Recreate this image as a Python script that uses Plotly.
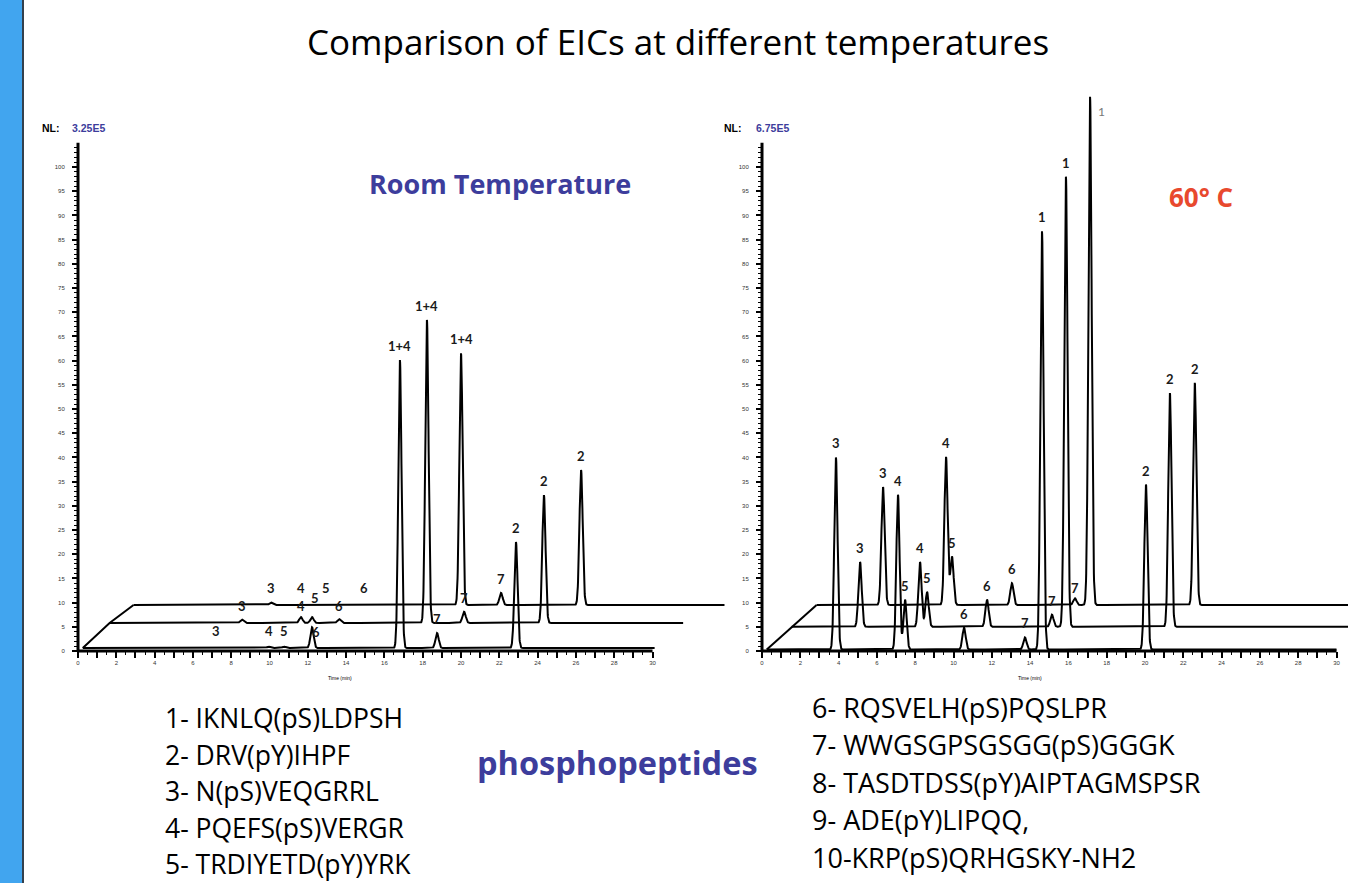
import numpy as np
import plotly.graph_objects as go

W, H = 1348, 883
PX_PER_MIN = 19.15
PX_PER_UNIT = 4.84
Y0_PX = 651

# ---------------- data ----------------
# Room temperature, three stacked runs (front, middle, back)
rt_labels = ["3", "4", "5", "6", "1+4", "7", "2"]
rt_front_time = [7.2, 9.95, 10.75, 12.22, 16.81, 18.75, 22.87]
rt_front_int = [0.15, 0.3, 0.3, 4.3, 59.5, 3.1, 21.9]
rt_mid_time = [7.16, 10.24, 10.82, 12.23, 16.82, 18.76, 22.93]
rt_mid_int = [0.7, 1.2, 1.2, 0.8, 62.6, 2.3, 26.4]
rt_back_time = [7.43, 9.0, 10.3, 12.3, 17.35, 19.44, 23.62]
rt_back_int = [0.5, 0.1, 0.1, 0.1, 52.0, 2.5, 27.9]
rt_end_time = [30.1, 30.2, 31.1]

# 60 C, three stacked runs
hot_labels = ["3", "4", "5", "6", "7", "1", "2"]
hot_front_time = [3.86, 7.10, 7.47, 10.55, 13.73, 14.62, 20.05]
hot_front_int = [39.7, 32.0, 10.3, 4.5, 2.5, 86.4, 34.1]
hot_mid_time = [3.82, 6.95, 7.32, 10.45, 13.84, 14.57, 20.0]
hot_mid_int = [13.4, 13.4, 7.2, 5.6, 2.5, 93.0, 48.3]
hot_back_time = [3.72, 7.01, 7.32, 10.45, 13.74, 14.53, 20.0]
hot_back_int = [24.4, 30.6, 10.0, 4.5, 1.4, 105.0, 45.9]
hot_end_time = [30.0, 31.0, 31.0]

# NL (normalisation levels)
nl_values = ["3.25E5", "6.75E5"]

# axis ticks
x_tick_vals = list(range(0, 31))
x_tick_text = [str(v) if v % 2 == 0 else "" for v in x_tick_vals]
x_minor_vals = [v + 0.5 for v in range(0, 30)]
y_tick_vals = list(range(0, 101, 5))
y_tick_text = [str(v) for v in y_tick_vals]
y_minor_vals = [v for v in range(0, 106) if v % 5 != 0]

peptides_left = ["1- IKNLQ(pS)LDPSH", "2- DRV(pY)IHPF", "3- N(pS)VEQGRRL",
                 "4- PQEFS(pS)VERGR", "5- TRDIYETD(pY)YRK"]
peptides_right = ["6- RQSVELH(pS)PQSLPR", "7- WWGSGPSGSGG(pS)GGGK",
                  "8- TASDTDSS(pY)AIPTAGMSPSR", "9- ADE(pY)LIPQQ,",
                  "10-KRP(pS)QRHGSKY-NH2"]

# ---------------- style / layout ----------------
START_T = 0.25
SIGMA = 0.085
STEP = 0.01
LEFT = dict(x0_px=78, dom=(70, 735), xoff=[0.0, 1.4, 2.65], base=[0.6, 5.8, 9.5])
RIGHT = dict(x0_px=762, dom=(755, 1348), xoff=[0.0, 1.3, 2.6], base=[0.3, 5.0, 9.5])
Y_DOM_PX = (75, 660)
BLUE = "#3d3d9c"
FONT = "Lato"
TEXT_FONT = "Open Sans"

fig = go.Figure()
annotations = []


def chromatogram(times, ints, t_end):
    t = np.arange(START_T, t_end + STEP, STEP)
    y = np.zeros_like(t)
    for rt, h in zip(times, ints):
        y += h * np.exp(-0.5 * ((t - rt) / SIGMA) ** 2)
    return t, y


def add_panel(cfg, runs, labels, ends, xa, ya):
    for i, (times, ints) in enumerate(runs):
        t, y = chromatogram(times, ints, ends[i])
        fig.add_trace(go.Scatter(x=t + cfg["xoff"][i], y=y + cfg["base"][i], mode="lines",
                                 line=dict(color="black", width=2), xaxis=xa, yaxis=ya,
                                 hoverinfo="skip", showlegend=False))
    # peak labels, placed from the back run to the front run, avoiding collisions
    placed = []
    for i in (2, 1, 0):
        times, ints = runs[i]
        for lab, rt, h in zip(labels, times, ints):
            xa_val = rt + cfg["xoff"][i]
            top = cfg["base"][i] + h
            px = cfg["x0_px"] + xa_val * PX_PER_MIN
            if top > 110:
                annotations.append(dict(x=xa_val, y=top - 1, xref=xa, yref=ya,
                                        text=lab, showarrow=False, xanchor="left", yanchor="top",
                                        xshift=6, font=dict(family=FONT, size=12, color="#777")))
                continue
            if h < 1.5:
                cy = Y0_PX - (cfg["base"][i] + 3.6) * PX_PER_UNIT
            else:
                cy = Y0_PX - top * PX_PER_UNIT - 14
            hits = [q for q in placed if abs(px - q[0]) < 12 and abs(cy - q[1]) < 14]
            if hits:
                if any(q[2] != i for q in hits):
                    cy = Y0_PX - top * PX_PER_UNIT + 5
                    px += 4
                else:
                    cy -= 8
                    px += 3
            placed.append((px, cy, i))
            annotations.append(dict(x=(px - cfg["x0_px"]) / PX_PER_MIN,
                                    y=(Y0_PX - cy) / PX_PER_UNIT, xref=xa, yref=ya,
                                    text="<b>" + lab + "</b>", showarrow=False,
                                    yanchor="middle",
                                    font=dict(family=FONT, size=13, color="#1a1a1a")))
    # perspective line joining the run starts
    fig.add_trace(go.Scatter(x=[START_T + o for o in cfg["xoff"]], y=cfg["base"], mode="lines",
                             line=dict(color="black", width=2), xaxis=xa, yaxis=ya,
                             hoverinfo="skip", showlegend=False))


add_panel(LEFT, [(rt_front_time, rt_front_int), (rt_mid_time, rt_mid_int), (rt_back_time, rt_back_int)],
          rt_labels, rt_end_time, "x", "y")
add_panel(RIGHT, [(hot_front_time, hot_front_int), (hot_mid_time, hot_mid_int), (hot_back_time, hot_back_int)],
          hot_labels, hot_end_time, "x2", "y2")


def xaxis_cfg(cfg):
    lo = (cfg["dom"][0] - cfg["x0_px"]) / PX_PER_MIN
    hi = (cfg["dom"][1] - cfg["x0_px"]) / PX_PER_MIN
    return dict(domain=[cfg["dom"][0] / W, cfg["dom"][1] / W], range=[lo, hi],
                anchor="free", position=1 - Y0_PX / H, showline=False, showgrid=False,
                zeroline=False, tickmode="array", tickvals=x_tick_vals, ticktext=x_tick_text,
                ticks="outside", ticklen=6, tickwidth=1.5, tickcolor="black",
                tickfont=dict(family="Liberation Sans", size=6, color="#333"),
                minor=dict(tickmode="array", tickvals=x_minor_vals, ticks="outside",
                           ticklen=3, tickwidth=1.2, tickcolor="black"))


def yaxis_cfg(cfg):
    lo = (Y0_PX - Y_DOM_PX[1]) / PX_PER_UNIT
    hi = (Y0_PX - Y_DOM_PX[0]) / PX_PER_UNIT
    return dict(domain=[1 - Y_DOM_PX[1] / H, 1 - Y_DOM_PX[0] / H], range=[lo, hi],
                anchor="free", position=cfg["x0_px"] / W, showline=False, showgrid=False,
                zeroline=False, tickmode="array", tickvals=y_tick_vals, ticktext=y_tick_text,
                ticks="outside", ticklen=6, tickwidth=1.5, tickcolor="black",
                ticklabelstandoff=6,
                tickfont=dict(family="Liberation Sans", size=6, color="#333"),
                minor=dict(tickmode="array", tickvals=y_minor_vals, ticks="outside",
                           ticklen=4, tickwidth=1.2, tickcolor="black"))


shapes = []
for xa, ya in (("x", "y"), ("x2", "y2")):
    shapes.append(dict(type="line", xref=xa, yref=ya, x0=0, x1=30, y0=0, y1=0,
                       line=dict(color="black", width=3)))
    shapes.append(dict(type="line", xref=xa, yref=ya, x0=0, x1=0, y0=0, y1=105,
                       line=dict(color="black", width=3)))
# slide side bar
shapes.append(dict(type="rect", xref="paper", yref="paper", x0=0, x1=22 / W, y0=0, y1=1,
                   fillcolor="#41a5ef", line=dict(width=0), layer="below"))
shapes.append(dict(type="line", xref="paper", yref="paper", x0=23 / W, x1=23 / W, y0=0, y1=1,
                   line=dict(color="#34404c", width=2)))


def pt(px, py):
    return px / W, 1 - py / H


def add_text(px, py, text, size, color="black", anchor="center", family=TEXT_FONT):
    x, y = pt(px, py)
    annotations.append(dict(x=x, y=y, xref="paper", yref="paper", text=text, showarrow=False,
                            xanchor=anchor, yanchor="middle",
                            font=dict(family=family, size=size, color=color)))


add_text(678, 42, "Comparison of EICs at different temperatures", 35)
add_text(40, 128, "<b>NL:</b>", 10.5, anchor="left", family="Liberation Sans")
add_text(70, 128, "<b>" + nl_values[0] + "</b>", 10.5, color=BLUE, anchor="left", family="Liberation Sans")
add_text(722, 128, "<b>NL:</b>", 10.5, anchor="left", family="Liberation Sans")
add_text(754, 128, "<b>" + nl_values[1] + "</b>", 10.5, color=BLUE, anchor="left", family="Liberation Sans")
add_text(500, 183, "<b>Room Temperature</b>", 27, color=BLUE)
add_text(1201, 197, "<b>60° C</b>", 26, color="#e8492e")
add_text(617, 762, "<b>phosphopeptides</b>", 32.5, color=BLUE)
add_text(340, 678, "Time (min)", 5, family="Liberation Sans")
add_text(1030, 678, "Time (min)", 5, family="Liberation Sans")
for k, s in enumerate(peptides_left):
    add_text(163, 718 + 36.5 * k, s, 26.5, anchor="left")
for k, s in enumerate(peptides_right):
    add_text(810, 707 + 37.5 * k, s, 27, anchor="left")

fig.update_layout(
    width=W, height=H, autosize=False,
    margin=dict(l=0, r=0, t=0, b=0),
    paper_bgcolor="white", plot_bgcolor="rgba(0,0,0,0)",
    xaxis=xaxis_cfg(LEFT), yaxis=yaxis_cfg(LEFT),
    xaxis2=xaxis_cfg(RIGHT), yaxis2=yaxis_cfg(RIGHT),
    shapes=shapes, annotations=annotations, showlegend=False,
)

fig.write_html("out.html")
